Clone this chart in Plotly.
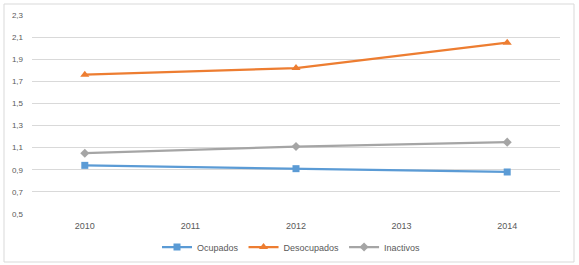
import plotly.graph_objects as go

years = [2010, 2012, 2014]
ocupados = [0.94, 0.91, 0.88]
desocupados = [1.76, 1.82, 2.05]
inactivos = [1.05, 1.11, 1.15]
x_ticks = [2010, 2011, 2012, 2013, 2014]
y_ticks = [0.5, 0.7, 0.9, 1.1, 1.3, 1.5, 1.7, 1.9, 2.1, 2.3]

fig = go.Figure()
fig.add_trace(go.Scatter(x=years, y=ocupados, name="Ocupados", mode="lines+markers",
                         line=dict(color="#5B9BD5", width=2.25),
                         marker=dict(symbol="square", size=7, color="#5B9BD5")))
fig.add_trace(go.Scatter(x=years, y=desocupados, name="Desocupados", mode="lines+markers",
                         line=dict(color="#ED7D31", width=2.25),
                         marker=dict(symbol="triangle-up", size=8, color="#ED7D31")))
fig.add_trace(go.Scatter(x=years, y=inactivos, name="Inactivos", mode="lines+markers",
                         line=dict(color="#A5A5A5", width=2.25),
                         marker=dict(symbol="diamond", size=7, color="#A5A5A5")))

L, R, T, B = 32, 19, 15, 51
pw = 579 - L - R
ph = 265 - T - B
fig.add_shape(type="rect", xref="paper", yref="paper",
              x0=(4 - L) / pw, x1=(574 - L) / pw,
              y0=(265 - B - 262) / ph, y1=(265 - B - 4) / ph,
              line=dict(color="#D9D9D9", width=1), fillcolor="rgba(0,0,0,0)", layer="below")

fig.update_layout(
    width=579, height=265,
    margin=dict(l=L, r=R, t=T, b=B, autoexpand=False),
    paper_bgcolor="white", plot_bgcolor="white",
    separators=",.",
    font=dict(family="Liberation Sans, Arial, sans-serif", color="#595959", size=9),
    xaxis=dict(range=[2009.5, 2014.5], tickvals=x_ticks, ticktext=[str(v) for v in x_ticks],
               showgrid=False, zeroline=False, showline=False, ticks="",
               automargin=False, ticklabelstandoff=5,
               tickfont=dict(size=9, color="#595959")),
    yaxis=dict(range=[0.5, 2.3], tickvals=y_ticks, tickformat=".1f",
               showgrid=True, gridcolor="#D9D9D9", gridwidth=1, zeroline=False,
               showline=False, ticks="", ticklabelstandoff=8, automargin=False,
               tickfont=dict(size=8, color="#595959")),
    legend=dict(orientation="h", x=(291.5 - L) / pw, xanchor="center", yref="container",
                y=(265 - 247) / 265, yanchor="middle",
                font=dict(size=9, color="#595959"),
                tracegroupgap=0, bgcolor="rgba(0,0,0,0)"),
    showlegend=True,
)

fig.write_html("out.html", config={"displayModeBar": False},
               post_script="document.body.style.margin='0';document.body.style.padding='0';")
